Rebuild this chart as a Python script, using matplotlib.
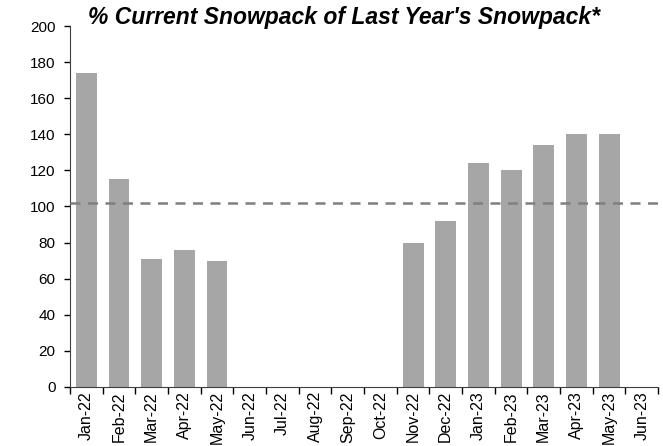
import numpy as np
import matplotlib.pyplot as plt

plt.rcParams['font.family'] = ['Liberation Sans', 'DejaVu Sans']

months = ['Jan-22', 'Feb-22', 'Mar-22', 'Apr-22', 'May-22', 'Jun-22', 'Jul-22', 'Aug-22', 'Sep-22',
          'Oct-22', 'Nov-22', 'Dec-22', 'Jan-23', 'Feb-23', 'Mar-23', 'Apr-23', 'May-23', 'Jun-23']
snowpack = [174, 115, 71, 76, 70, np.nan, np.nan, np.nan, np.nan,
            np.nan, 80, 92, 124, 120, 134, 140, 140, np.nan]
reference_level = 102

fig = plt.figure(figsize=(6.63, 4.46), dpi=100)
ax = fig.add_axes([0.1056, 0.1323, 0.887, 0.8094])

x = np.arange(len(months))
ax.bar(x, snowpack, width=0.64, color='#a6a6a6', zorder=2)
ax.axhline(reference_level, color='#7f7f7f', linestyle=(0, (4, 3)), linewidth=1.8, zorder=3)

ax.set_xlim(-0.5, len(months) - 0.5)
ax.set_ylim(0, 200)
ax.set_yticks(range(0, 201, 20))
ax.set_xticks(x)
ax.set_xticklabels(months, rotation=90, fontsize=11.5)
ax.tick_params(axis='x', length=0, pad=3)
ax.set_xticks(np.arange(-0.5, len(months)), minor=True)
ax.tick_params(axis='x', which='minor', length=5, direction='out', width=1)
ax.tick_params(axis='y', labelsize=11, length=4.3, width=1, pad=6)

for s in ['top', 'right']:
    ax.spines[s].set_visible(False)
for s in ['left', 'bottom']:
    ax.spines[s].set_color('#404040')

fig.text(0.519, 0.96, "% Current Snowpack of Last Year's Snowpack*", ha='center', va='center',
         fontsize=16.5, fontweight='bold', fontstyle='italic')

fig.savefig('out.png', dpi=100)
